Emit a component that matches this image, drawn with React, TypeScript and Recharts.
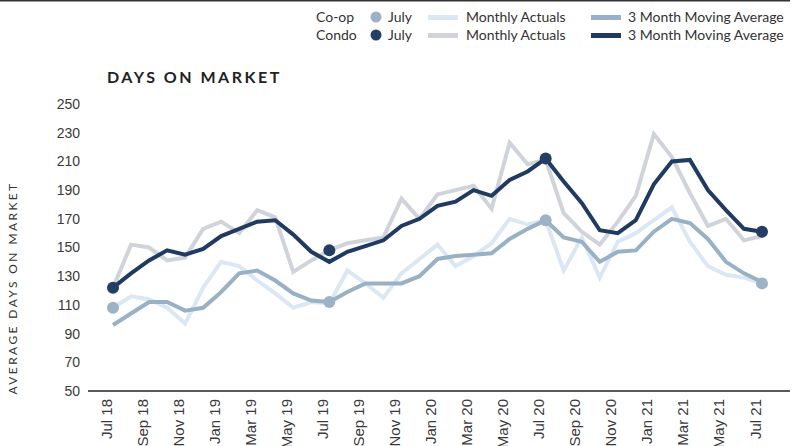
import React from 'react';
import { LineChart, Line, XAxis, YAxis } from 'recharts';

const months = [
  'Jul 18', 'Aug 18', 'Sep 18', 'Oct 18', 'Nov 18', 'Dec 18',
  'Jan 19', 'Feb 19', 'Mar 19', 'Apr 19', 'May 19', 'Jun 19',
  'Jul 19', 'Aug 19', 'Sep 19', 'Oct 19', 'Nov 19', 'Dec 19',
  'Jan 20', 'Feb 20', 'Mar 20', 'Apr 20', 'May 20', 'Jun 20',
  'Jul 20', 'Aug 20', 'Sep 20', 'Oct 20', 'Nov 20', 'Dec 20',
  'Jan 21', 'Feb 21', 'Mar 21', 'Apr 21', 'May 21', 'Jun 21',
  'Jul 21',
];

const condoActual = [
  122, 152, 150, 141, 143, 163, 168, 160, 176, 171, 133, 141,
  148, 153, 155, 157, 184, 170, 187, 190, 193, 177, 223, 208,
  211, 174, 161, 152, 168, 186, 229, 213, 188, 165, 170, 155,
  158,
];
const condoAvg = [
  122, 132, 141, 148, 145, 149, 158, 163, 168, 169, 159, 147,
  140, 147, 151, 155, 165, 170, 179, 182, 190, 186, 197, 203,
  212, 196, 181, 162, 160, 169, 194, 210, 211, 190, 176, 163,
  161,
];
const coopActual = [
  108, 116, 114, 108, 97, 122, 140, 137, 127, 118, 108, 112,
  111, 134, 125, 115, 132, 142, 152, 137, 144, 153, 170, 166,
  169, 134, 157, 129, 154, 160, 169, 178, 154, 137, 131, 129,
  125,
];
const coopAvg = [
  96, 104, 112, 112, 106, 108, 119, 132, 134, 127, 118, 113,
  112, 119, 125, 125, 125, 130, 142, 144, 145, 146, 156, 163,
  169, 157, 154, 140, 147, 148, 161, 170, 167, 156, 140, 132,
  126,
];
// July readings, marked with dots
const condoJuly: Record<string, number> = { 'Jul 18': 122, 'Jul 19': 148, 'Jul 20': 212, 'Jul 21': 161 };
const coopJuly: Record<string, number> = { 'Jul 18': 108, 'Jul 19': 112, 'Jul 20': 169, 'Jul 21': 125 };

const yTicks = [50, 70, 90, 110, 130, 150, 170, 190, 210, 230, 250];

const C = {
  coopActual: '#dce7f4',
  coopAvg: '#98b1c5',
  coopDot: '#9cb3c6',
  condoActual: '#d0d4da',
  condoAvg: '#203b61',
  condoDot: '#243d63',
  text: '#333',
};

const data = months.map((m, i) => ({
  month: m,
  condoActual: condoActual[i],
  condoAvg: condoAvg[i],
  coopActual: coopActual[i],
  coopAvg: coopAvg[i],
  condoJuly: condoJuly[m] ?? null,
  coopJuly: coopJuly[m] ?? null,
}));

const sans = 'Lato, "Noto Sans", sans-serif';
const tickFont = '"Liberation Sans", Arial, sans-serif';

function LegendRows() {
  const rows = [
    { label: 'Co-op', dot: C.coopDot, actual: C.coopActual, avg: C.coopAvg, y: 22 },
    { label: 'Condo', dot: C.condoDot, actual: C.condoActual, avg: C.condoAvg, y: 40 },
  ];
  return (
    <>
      {rows.map(r => (
        <g key={r.label} fontFamily={sans} fontSize={14} fill={C.text}>
          <text x={316} y={r.y}>{r.label}</text>
          <circle cx={376} cy={r.y - 5} r={5.5} fill={r.dot} />
          <text x={388} y={r.y}>July</text>
          <rect x={428} y={r.y - 7} width={30} height={5} fill={r.actual} />
          <text x={466} y={r.y}>Monthly Actuals</text>
          <rect x={591} y={r.y - 7} width={30} height={5} fill={r.avg} />
          <text x={628} y={r.y}>3 Month Moving Average</text>
        </g>
      ))}
    </>
  );
}

const XTick = (props: any) => {
  const { x, y, payload } = props;
  return (
    <text
      x={x}
      y={y}
      dy={-1.5}
      transform={`rotate(-90 ${x} ${y})`}
      textAnchor="end"
      fontFamily={tickFont}
      fontSize={15}
      fill="#3a3a3a"
    >
      {payload.value}
    </text>
  );
};

export default function App() {
  return (
    <div style={{ position: 'absolute', left: 0, top: 0, width: 800, height: 446, overflow: 'hidden', background: '#fff' }}>
      <svg width={800} height={446} style={{ position: 'absolute', left: 0, top: 0 }}>
        <rect x={0} y={0} width={790} height={1.5} fill="#333" />
        <LegendRows />
        <text x={107} y={83} fontFamily={sans} fontWeight={700} fontSize={16} letterSpacing={2.5} fill="#222">
          DAYS ON MARKET
        </text>
        <text
          x={17}
          y={288}
          transform="rotate(-90 17 288)"
          textAnchor="middle"
          fontFamily={sans}
          fontSize={12}
          letterSpacing={2.4}
          fill={C.text}
        >
          AVERAGE DAYS ON MARKET
        </text>
      </svg>
      <div style={{ position: 'absolute', left: 0, top: 0 }}>
        <LineChart width={800} height={446} data={data} margin={{ top: 104, right: 10, bottom: 25, left: 48 }}>
          <XAxis
            dataKey="month"
            interval={1}
            height={30}
            padding={{ left: 25, right: 28 }}
            tickLine={false}
            axisLine={{ stroke: '#222', strokeWidth: 1.5 }}
            tick={<XTick />}
          />
          <YAxis
            width={40}
            domain={[50, 250]}
            ticks={yTicks}
            interval={0}
            tickLine={false}
            axisLine={false}
            tick={{ fill: '#3a3a3a', fontSize: 14, fontFamily: tickFont }}
          />
          <Line dataKey="condoActual" name="Condo Monthly Actuals" stroke={C.condoActual} strokeWidth={4} dot={false} isAnimationActive={false} />
          <Line dataKey="coopActual" name="Co-op Monthly Actuals" stroke={C.coopActual} strokeWidth={4} dot={false} isAnimationActive={false} />
          <Line dataKey="coopAvg" name="Co-op 3 Month Moving Average" stroke={C.coopAvg} strokeWidth={4} dot={false} isAnimationActive={false} />
          <Line dataKey="condoAvg" name="Condo 3 Month Moving Average" stroke={C.condoAvg} strokeWidth={4} dot={false} isAnimationActive={false} />
          <Line dataKey="coopJuly" name="Co-op July" stroke="none" dot={{ r: 6, fill: C.coopDot, stroke: 'none' }} activeDot={false} isAnimationActive={false} />
          <Line dataKey="condoJuly" name="Condo July" stroke="none" dot={{ r: 6, fill: C.condoDot, stroke: 'none' }} activeDot={false} isAnimationActive={false} />
        </LineChart>
      </div>
    </div>
  );
}
